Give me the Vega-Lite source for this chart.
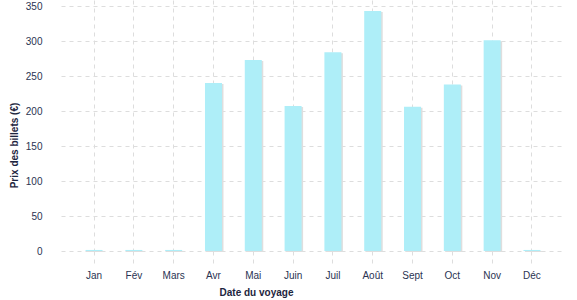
{
  "$schema": "https://vega.github.io/schema/vega-lite/v6.json",
  "autosize": {"type": "none"},
  "width": 504,
  "height": 251,
  "padding": {"left": 61, "top": 0, "right": 12, "bottom": 49},
  "background": "white",
  "config": {
    "view": {"stroke": null},
    "font": "Liberation Sans",
    "axis": {
      "labelFont": "Liberation Sans",
      "titleFont": "Liberation Sans",
      "labelColor": "#2a3352",
      "titleColor": "#1d2540",
      "labelFontSize": 10,
      "titleFontSize": 10,
      "titleFontWeight": "bold",
      "domain": false,
      "gridColor": "#dddddd",
      "gridDash": [4, 4],
      "gridWidth": 1
    }
  },
  "data": {
    "values": [
      {"mois": "Jan", "prix": 1.5},
      {"mois": "Fév", "prix": 1.5},
      {"mois": "Mars", "prix": 1.5},
      {"mois": "Avr", "prix": 240},
      {"mois": "Mai", "prix": 273},
      {"mois": "Juin", "prix": 207},
      {"mois": "Juil", "prix": 284},
      {"mois": "Août", "prix": 343},
      {"mois": "Sept", "prix": 206},
      {"mois": "Oct", "prix": 238},
      {"mois": "Nov", "prix": 301},
      {"mois": "Déc", "prix": 1.5}
    ]
  },
  "encoding": {
    "x": {
      "field": "mois",
      "type": "nominal",
      "sort": null,
      "scale": {"paddingInner": 0, "paddingOuter": 0.33},
      "axis": {
        "title": "Date du voyage",
        "labelAngle": 0,
        "grid": true,
        "ticks": true,
        "tickColor": "#dddddd",
        "tickDash": [4, 4],
        "tickSize": 14,
        "labelPadding": 5,
        "titlePadding": 7,
        "titleX": 195
      }
    },
    "y": {
      "field": "prix",
      "type": "quantitative",
      "scale": {"domain": [0, 358.6], "nice": false},
      "axis": {
        "title": "Prix des billets (€)",
        "values": [0, 50, 100, 150, 200, 250, 300, 350],
        "ticks": false,
        "labelPadding": 19,
        "grid": true,
        "titlePadding": 6,
        "titleY": 145
      }
    }
  },
  "layer": [
    {"mark": {"type": "bar", "width": 17, "color": "#dedede", "xOffset": 1.5, "yOffset": 1}},
    {"mark": {"type": "bar", "width": 17, "color": "#aeeef8"}}
  ]
}
